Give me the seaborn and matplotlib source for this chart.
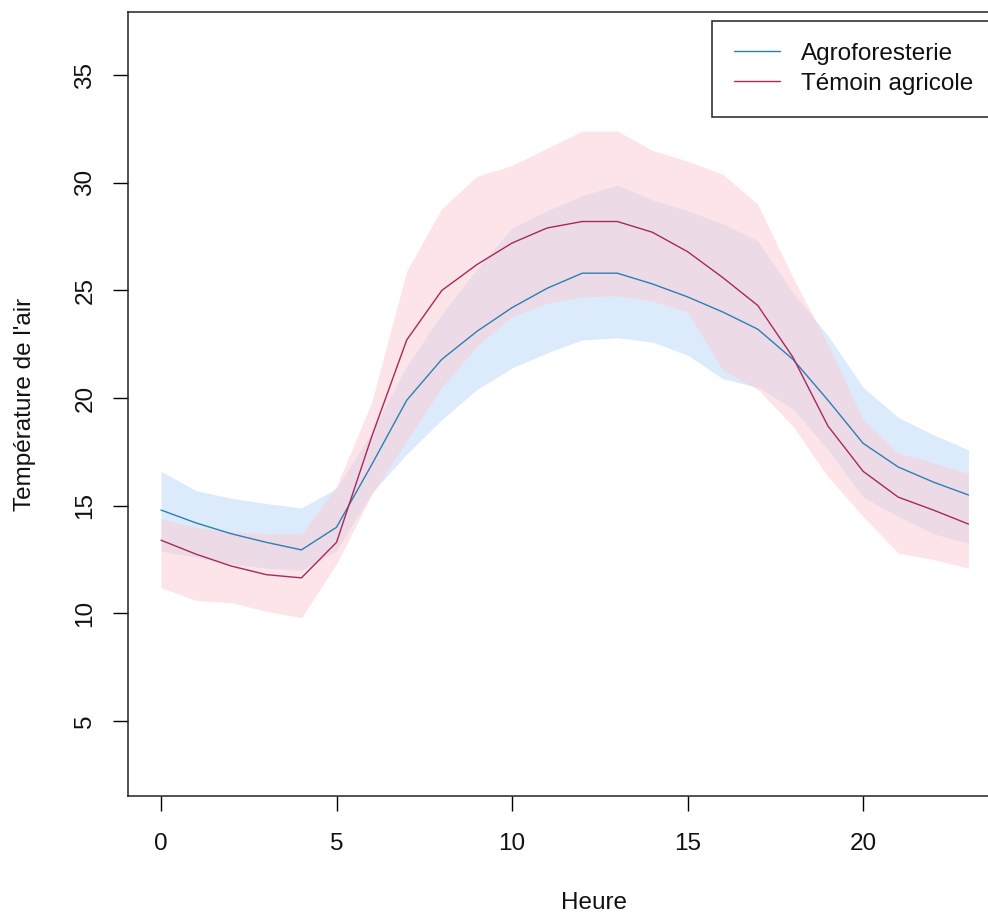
import numpy as np
import pandas as pd
import matplotlib
matplotlib.use("Agg")
import matplotlib.pyplot as plt
from matplotlib.lines import Line2D
import seaborn as sns

# Hourly air temperature: mean and envelope per treatment
heures = list(range(24))

agro_moy = [14.8, 14.2, 13.7, 13.3, 12.95, 14.0, 16.9, 19.9, 21.8, 23.1, 24.2, 25.1,
            25.8, 25.8, 25.3, 24.7, 24.0, 23.2, 21.8, 19.9, 17.9, 16.8, 16.1, 15.5]
agro_haut = [16.6, 15.7, 15.35, 15.1, 14.9, 15.8, 18.4, 21.5, 23.9, 26.0, 27.9, 28.7,
             29.4, 29.9, 29.2, 28.7, 28.1, 27.3, 24.9, 22.9, 20.5, 19.1, 18.3, 17.6]
agro_bas = [12.9, 12.6, 12.3, 12.1, 12.0, 12.9, 15.6, 17.4, 19.0, 20.4, 21.4, 22.1,
            22.7, 22.8, 22.6, 22.0, 20.9, 20.5, 19.5, 17.6, 15.4, 14.5, 13.7, 13.25]

temoin_moy = [13.4, 12.75, 12.2, 11.8, 11.65, 13.3, 18.2, 22.7, 25.0, 26.2, 27.2, 27.9,
              28.2, 28.2, 27.7, 26.8, 25.6, 24.3, 21.9, 18.7, 16.6, 15.4, 14.8, 14.15]
temoin_haut = [14.4, 14.0, 13.8, 13.7, 13.7, 15.9, 19.8, 25.9, 28.8, 30.3, 30.8, 31.6,
               32.4, 32.4, 31.5, 31.0, 30.4, 29.0, 25.6, 22.5, 19.0, 17.45, 17.0, 16.5]
temoin_bas = [11.2, 10.6, 10.5, 10.1, 9.8, 12.3, 15.5, 18.0, 20.5, 22.4, 23.8, 24.4,
              24.7, 24.75, 24.5, 24.0, 21.3, 20.4, 18.7, 16.35, 14.5, 12.8, 12.5, 12.1]

groupes = ["Agroforesterie", "Témoin agricole"]
couleurs_lignes = ["#2b7fb4", "#a8285a"]
couleurs_bandes = ["#dcebfb", "#fbced7"]

x_ticks = [0, 5, 10, 15, 20]
y_ticks = [5, 10, 15, 20, 25, 30, 35]

df = pd.DataFrame({
    "Heure": heures * 2,
    "Temp": agro_moy + temoin_moy,
    "Groupe": [groupes[0]] * 24 + [groupes[1]] * 24,
})

sns.set_style("ticks")
plt.rcParams["font.family"] = ["Liberation Sans", "DejaVu Sans"]

W, H = 988, 916
fig = plt.figure(figsize=(W / 100, H / 100), dpi=100)
ax = fig.add_axes([128 / W, (H - 796) / H, 872 / W, 784 / H])

# envelopes
ax.fill_between(heures, agro_bas, agro_haut, color=couleurs_bandes[0], lw=0, zorder=1)
ax.fill_between(heures, temoin_bas, temoin_haut, color=couleurs_bandes[1], alpha=0.55,
                lw=0, zorder=2)

# mean curves
sns.lineplot(data=df, x="Heure", y="Temp", hue="Groupe", hue_order=groupes,
             palette=couleurs_lignes, errorbar=None, linewidth=1.0, ax=ax, zorder=3,
             legend=False)

ax.set_xlim(-0.94, 23.90)
ax.set_ylim(1.52, 37.93)
ax.set_xticks(x_ticks)
ax.set_yticks(y_ticks)
ax.set_xticklabels([str(t) for t in x_ticks])
ax.set_yticklabels([str(t) for t in y_ticks], rotation=90, va="center")

fs = 17.5
texte = "#111111"
ax.tick_params(axis="both", direction="out", length=10.8, width=1.0, color="black",
               labelsize=fs, labelcolor=texte)
ax.tick_params(axis="x", pad=16)
ax.tick_params(axis="y", pad=12)
for s in ax.spines.values():
    s.set_color("#222222")
    s.set_linewidth(1.1)

ax.set_xlabel("Heure", fontsize=fs, color=texte)
ax.set_ylabel("Température de l'air", fontsize=fs, color=texte)
ax.xaxis.set_label_coords((594 - 128) / 872, -(903 - 796) / 784)
ax.yaxis.set_label_coords(-(128 - 25) / 872, 0.5)
ax.xaxis.label.set_va("center")
ax.yaxis.label.set_va("center")

poignees = [Line2D([0], [0], color=c, lw=1.0) for c in couleurs_lignes]
leg = ax.legend(poignees, groupes, loc="upper left",
                bbox_to_anchor=(712 / W, 1 - 21 / H), bbox_transform=fig.transFigure,
                fontsize=fs, frameon=True, fancybox=False, framealpha=1,
                edgecolor="#222222", borderaxespad=0, borderpad=0.9,
                handlelength=1.9, handletextpad=0.85, labelspacing=0.32)
leg.get_frame().set_linewidth(1.1)
for t in leg.get_texts():
    t.set_color(texte)

fig.savefig("out.png", dpi=100, facecolor="white")
